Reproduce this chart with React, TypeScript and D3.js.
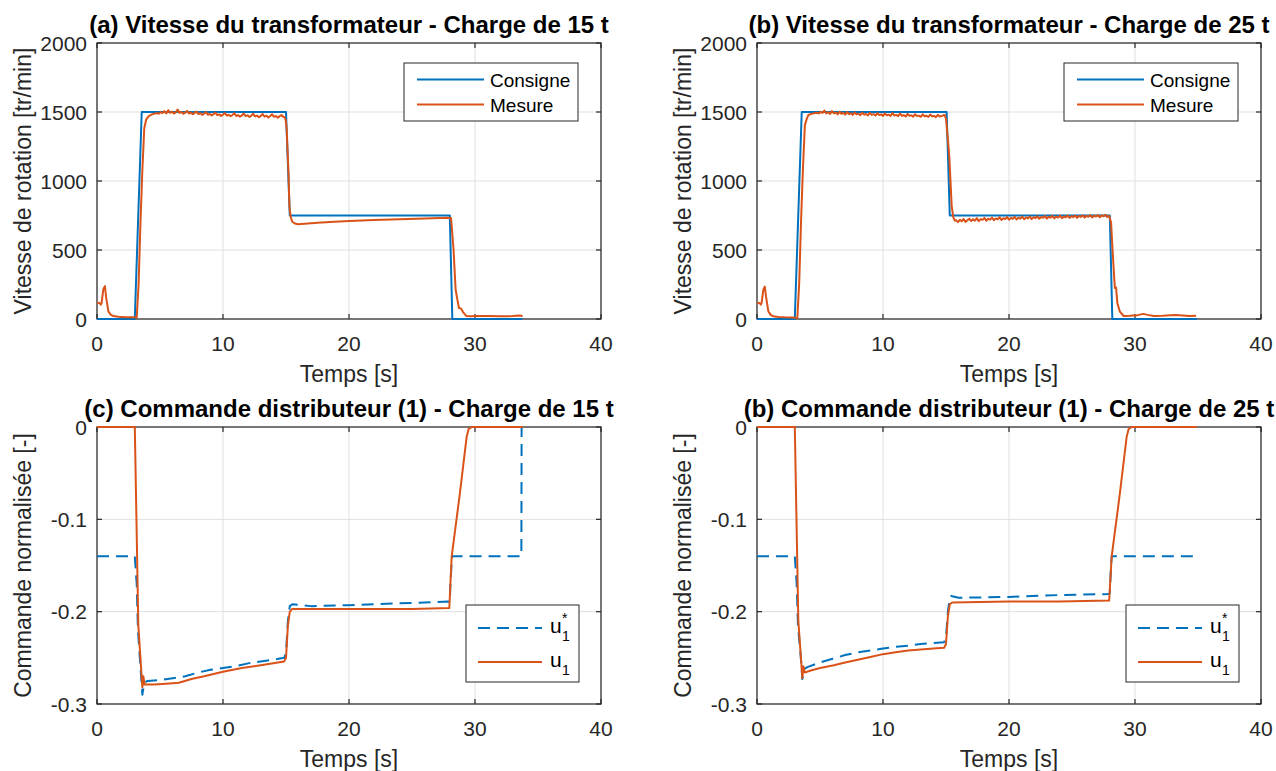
import React from 'react';
import * as d3 from 'd3';

type P = [number, number];

// ---------- axis ticks ----------
const xTicks = [0, 10, 20, 30, 40];
const xTickLabels = ['0', '10', '20', '30', '40'];
const speedTicks = [0, 500, 1000, 1500, 2000];
const speedTickLabels = ['0', '500', '1000', '1500', '2000'];
const cmdTicks = [0, -0.1, -0.2, -0.3];
const cmdTickLabels = ['0', '-0.1', '-0.2', '-0.3'];

// ---------- texts ----------
const titleA = '(a) Vitesse du transformateur - Charge de 15 t';
const titleB = '(b) Vitesse du transformateur - Charge de 25 t';
const titleC = '(c) Commande distributeur (1) - Charge de 15 t';
const titleD = '(b) Commande distributeur (1) - Charge de 25 t';
const xLabel = 'Temps [s]';
const speedLabel = 'Vitesse de rotation [tr/min]';
const cmdLabel = 'Commande normalisée [-]';
const speedLegend = ['Consigne', 'Mesure'];

// ---------- (a) speed, 15 t ----------
const consigneA: P[] = [[0, 0], [3.0, 0], [3.55, 1500], [15.0, 1500], [15.3, 750], [28.0, 750], [28.2, 0], [33.75, 0]];
const mesureA: P[] = [
  [0, 118], [0.2, 116], [0.3, 104], [0.37, 118], [0.5, 215], [0.63, 238], [0.72, 160], [0.9, 55], [1.1, 30], [1.3, 22], [1.7, 16], [2.2, 13], [2.8, 12], [3.15, 10],
  [3.3, 250], [3.45, 700], [3.6, 1080], [3.75, 1380], [3.9, 1445], [4.1, 1470], [4.4, 1484], [4.7, 1492],
  [4.9, 1488], [5.05, 1499], [5.2, 1492], [5.35, 1506], [5.5, 1490], [5.65, 1513], [5.8, 1494], [5.95, 1502], [6.1, 1489], [6.25, 1497],
  [6.4, 1518], [6.55, 1493], [6.7, 1500], [6.85, 1487], [7.0, 1495], [7.15, 1508], [7.3, 1489], [7.45, 1497], [7.6, 1484], [7.75, 1494],
  [7.9, 1503], [8.05, 1485], [8.2, 1492], [8.35, 1479], [8.5, 1488], [8.65, 1499], [8.8, 1480], [8.95, 1487], [9.1, 1475], [9.25, 1484],
  [9.4, 1496], [9.55, 1477], [9.7, 1483], [9.85, 1472], [10.0, 1481], [10.15, 1493], [10.3, 1474], [10.45, 1480], [10.6, 1469], [10.75, 1478],
  [10.9, 1491], [11.05, 1471], [11.2, 1478], [11.35, 1466], [11.5, 1475], [11.65, 1489], [11.8, 1470], [11.95, 1476], [12.1, 1464], [12.25, 1474],
  [12.4, 1487], [12.55, 1468], [12.7, 1474], [12.85, 1462], [13.0, 1472], [13.15, 1485], [13.3, 1467], [13.45, 1473], [13.6, 1460], [13.75, 1471],
  [13.9, 1483], [14.05, 1465], [14.2, 1471], [14.35, 1459], [14.5, 1470], [14.65, 1478], [14.8, 1464],
  [14.9, 1462], [14.98, 1440], [15.05, 1380], [15.2, 1060], [15.27, 820], [15.37, 740], [15.5, 705], [15.7, 692], [15.95, 686],
  [16.5, 690], [17.5, 697], [18.5, 703], [20, 710], [22, 717], [24, 723], [26, 729], [27.8, 734], [28.1, 730], [28.3, 500], [28.46, 215],
  [28.6, 140], [28.73, 80], [28.9, 75], [29.05, 50], [29.3, 22], [29.6, 20], [30.2, 22], [31, 21], [32, 20], [33, 21], [33.5, 26], [33.7, 24], [33.75, 16],
];

// ---------- (b) speed, 25 t ----------
const consigneB: P[] = [[0, 0], [3.0, 0], [3.55, 1500], [15.05, 1500], [15.3, 750], [28.0, 750], [28.2, 0], [34.9, 0]];
const mesureB: P[] = [
  [0, 118], [0.2, 116], [0.3, 104], [0.37, 118], [0.5, 210], [0.62, 235], [0.72, 160], [0.9, 55], [1.1, 28], [1.3, 20], [1.7, 15], [2.2, 12], [2.8, 10], [3.2, 8],
  [3.35, 260], [3.5, 720], [3.65, 1100], [3.8, 1405], [3.95, 1450], [4.07, 1478], [4.4, 1488], [4.7, 1495],
  [4.9, 1490], [5.05, 1501], [5.2, 1493], [5.35, 1511], [5.5, 1489], [5.65, 1498], [5.8, 1486], [5.95, 1506], [6.1, 1490], [6.25, 1496],
  [6.4, 1483], [6.55, 1502], [6.7, 1487], [6.85, 1494], [7.0, 1481], [7.15, 1500], [7.3, 1485], [7.45, 1491], [7.6, 1479], [7.75, 1498],
  [7.9, 1483], [8.05, 1488], [8.2, 1477], [8.35, 1496], [8.5, 1481], [8.65, 1486], [8.8, 1475], [8.95, 1494], [9.1, 1479], [9.25, 1485],
  [9.4, 1474], [9.55, 1492], [9.7, 1478], [9.85, 1483], [10.0, 1472], [10.15, 1490], [10.3, 1476], [10.45, 1481], [10.6, 1471], [10.75, 1493],
  [10.9, 1474], [11.05, 1479], [11.2, 1469], [11.35, 1488], [11.5, 1473], [11.65, 1477], [11.8, 1467], [11.95, 1486], [12.1, 1472], [12.25, 1476],
  [12.4, 1466], [12.55, 1484], [12.7, 1470], [12.85, 1474], [13.0, 1465], [13.15, 1483], [13.3, 1469], [13.45, 1473], [13.6, 1464], [13.75, 1482],
  [13.9, 1468], [14.05, 1472], [14.2, 1463], [14.35, 1480], [14.5, 1467], [14.65, 1471], [14.8, 1476],
  [14.9, 1478], [15.0, 1450], [15.15, 1300], [15.26, 1180], [15.45, 820], [15.58, 737], [15.7, 713],
  [15.8, 716], [15.95, 702], [16.1, 719], [16.25, 708], [16.4, 725], [16.55, 704], [16.7, 716], [16.85, 727], [17.0, 710], [17.15, 722],
  [17.3, 713], [17.45, 731], [17.6, 709], [17.75, 724], [17.9, 718], [18.05, 733], [18.2, 712], [18.35, 727], [18.5, 720], [18.65, 735],
  [18.8, 716], [18.95, 729], [19.1, 722], [19.25, 738], [19.4, 717], [19.55, 730], [19.7, 724], [19.85, 739], [20.0, 719], [20.15, 733],
  [20.3, 726], [20.45, 740], [20.6, 721], [20.75, 734], [20.9, 727], [21.05, 742], [21.2, 723], [21.35, 736], [21.5, 729], [21.65, 743],
  [21.8, 724], [21.95, 738], [22.1, 730], [22.25, 745], [22.4, 726], [22.55, 739], [22.7, 733], [22.85, 746], [23.0, 727], [23.15, 741],
  [23.3, 734], [23.45, 748], [23.6, 729], [23.75, 742], [23.9, 735], [24.05, 749], [24.2, 730], [24.35, 743], [24.5, 737], [24.65, 750],
  [24.8, 732], [24.95, 745], [25.1, 738], [25.25, 751], [25.4, 733], [25.55, 746], [25.7, 740], [25.85, 752], [26.0, 735], [26.15, 748],
  [26.3, 741], [26.45, 753], [26.6, 736], [26.75, 749], [26.9, 743], [27.05, 754], [27.2, 737], [27.35, 750], [27.5, 744], [27.65, 755],
  [27.8, 739], [27.95, 748], [28.1, 700], [28.25, 450], [28.4, 225], [28.5, 228], [28.6, 115], [28.8, 53], [29.1, 22], [29.6, 24],
  [30.2, 28], [30.65, 37], [31.0, 30], [31.5, 22], [32.2, 24], [32.8, 27], [33.2, 29], [33.8, 25], [34.3, 22], [34.85, 24],
];

// ---------- (c) command, 15 t ----------
const uStarC: P[] = [
  [0, -0.14], [3.0, -0.14], [3.05, -0.15], [3.15, -0.17], [3.25, -0.22], [3.35, -0.24], [3.45, -0.26], [3.6, -0.29], [3.75, -0.277],
  [4, -0.275], [5, -0.274], [6, -0.272], [7, -0.27], [8, -0.266], [9, -0.263], [10, -0.261], [11, -0.259], [12, -0.256], [13, -0.254],
  [14, -0.252], [14.85, -0.25], [15.0, -0.245], [15.15, -0.21], [15.3, -0.194], [15.5, -0.192], [17, -0.194], [20, -0.193], [24, -0.191],
  [27.9, -0.189], [28.0, -0.19], [28.05, -0.17], [28.15, -0.145], [28.2, -0.14], [33.68, -0.14], [33.7, 0],
];
const uC: P[] = [
  [0, 0], [3.0, 0], [3.28, -0.215], [3.6, -0.282], [3.68, -0.27], [3.78, -0.279], [4.5, -0.279], [5.5, -0.278], [6.5, -0.277],
  [7.5, -0.273], [8.5, -0.27], [10, -0.265], [11.5, -0.261], [13, -0.258], [14.85, -0.254], [15.0, -0.25], [15.15, -0.215],
  [15.3, -0.2], [15.5, -0.197], [20, -0.197], [25, -0.197], [27.96, -0.196], [28.15, -0.14], [28.8, -0.072], [29.34, -0.0105],
  [29.5, -0.002], [29.75, 0], [33.8, 0],
];

// ---------- (d) command, 25 t ----------
const uStarD: P[] = [
  [0, -0.14], [3.0, -0.14], [3.05, -0.15], [3.15, -0.17], [3.25, -0.215], [3.45, -0.245], [3.6, -0.273], [3.75, -0.262],
  [4, -0.26], [5, -0.255], [6, -0.251], [7, -0.247], [8, -0.244], [9, -0.242], [10, -0.24], [11, -0.238], [12, -0.237],
  [13, -0.235], [14, -0.234], [14.85, -0.233], [15.0, -0.228], [15.15, -0.2], [15.3, -0.185], [15.4, -0.183], [16, -0.185],
  [20, -0.184], [24, -0.182], [27.9, -0.181], [28.0, -0.18], [28.1, -0.15], [28.15, -0.14], [34.85, -0.14],
];
const uD: P[] = [
  [0, 0], [3.0, 0], [3.28, -0.21], [3.6, -0.272], [3.68, -0.259], [3.8, -0.266], [4.2, -0.264], [5, -0.261], [6.1, -0.258],
  [7, -0.255], [8, -0.252], [9, -0.249], [10, -0.246], [11, -0.244], [12, -0.242], [13, -0.241], [14, -0.24], [14.85, -0.239],
  [15.0, -0.235], [15.15, -0.205], [15.3, -0.192], [15.5, -0.19], [20, -0.189], [24, -0.189], [27.95, -0.188], [28.15, -0.14],
  [28.8, -0.072], [29.34, -0.0105], [29.5, -0.002], [29.75, 0], [34.9, 0],
];

// ---------- style ----------
const W = 1276;
const H = 771;
const BLUE = '#0072BD';
const ORANGE = '#D95319';
const AX = '#262626';
const GRID = '#dfdfdf';
const FONT = "'Liberation Sans', Arial, Helvetica, sans-serif";

type Series = { data: P[]; color: string; dash?: string };

type PanelProps = {
  left: number; top: number; width: number; height: number;
  yDomain: [number, number]; yTicks: number[]; yTickLabels: string[];
  title: string; ylabel: string; series: Series[];
  legend: 'speed' | 'cmd';
};

function Panel(p: PanelProps) {
  const x = d3.scaleLinear().domain([0, 40]).range([p.left, p.left + p.width]);
  const y = d3.scaleLinear().domain(p.yDomain).range([p.top + p.height, p.top]);
  const line = d3.line<P>().x(d => x(d[0])).y(d => y(d[1]));
  const bottom = p.top + p.height;
  const right = p.left + p.width;
  const tl = 5;

  let legendEl: React.ReactNode = null;
  if (p.legend === 'speed') {
    const lx = right - 197, ly = p.top + 20, lw = 174, lh = 58;
    const rows = [ly + 16.5, ly + 41.5];
    legendEl = (
      <g>
        <rect x={lx} y={ly} width={lw} height={lh} fill="#fff" stroke={AX} strokeWidth={1} />
        {p.series.map((s, i) => (
          <g key={i}>
            <line x1={lx + 13} x2={lx + 80} y1={rows[i]} y2={rows[i]} stroke={s.color} strokeWidth={2} />
            <text x={lx + 86} y={rows[i] + 7.5} fontSize={19} fill="#000">{speedLegend[i]}</text>
          </g>
        ))}
      </g>
    );
  } else {
    const lx = right - 135, ly = p.top + 178, lw = 113, lh = 77;
    const rows = [ly + 23, ly + 57];
    legendEl = (
      <g>
        <rect x={lx} y={ly} width={lw} height={lh} fill="#fff" stroke={AX} strokeWidth={1} />
        {p.series.map((s, i) => (
          <g key={i}>
            <line x1={lx + 12} x2={lx + 76} y1={rows[i]} y2={rows[i]} stroke={s.color} strokeWidth={2} strokeDasharray={s.dash} />
            <text x={lx + 84} y={rows[i] + 5} fontSize={21} fill="#000">u</text>
            <text x={lx + 96} y={rows[i] + 13} fontSize={14} fill="#000">1</text>
            {i === 0 ? <text x={lx + 96} y={rows[i] - 5} fontSize={14} fill="#000">*</text> : null}
          </g>
        ))}
      </g>
    );
  }

  return (
    <g fontFamily={FONT}>
      {xTicks.map(t => (
        <line key={'gx' + t} x1={x(t)} x2={x(t)} y1={p.top} y2={bottom} stroke={GRID} strokeWidth={1} />
      ))}
      {p.yTicks.map(t => (
        <line key={'gy' + t} x1={p.left} x2={right} y1={y(t)} y2={y(t)} stroke={GRID} strokeWidth={1} />
      ))}
      <rect x={p.left} y={p.top} width={p.width} height={p.height} fill="none" stroke={AX} strokeWidth={1.2} />
      {xTicks.map(t => (
        <g key={'tx' + t}>
          <line x1={x(t)} x2={x(t)} y1={bottom} y2={bottom - tl} stroke={AX} strokeWidth={1.2} />
          <line x1={x(t)} x2={x(t)} y1={p.top} y2={p.top + tl} stroke={AX} strokeWidth={1.2} />
        </g>
      ))}
      {p.yTicks.map(t => (
        <g key={'ty' + t}>
          <line x1={p.left} x2={p.left + tl} y1={y(t)} y2={y(t)} stroke={AX} strokeWidth={1.2} />
          <line x1={right} x2={right - tl} y1={y(t)} y2={y(t)} stroke={AX} strokeWidth={1.2} />
        </g>
      ))}
      {xTicks.map((t, i) => (
        <text key={'lx' + t} x={x(t)} y={bottom + 32} textAnchor="middle" fontSize={21} fill={AX}>{xTickLabels[i]}</text>
      ))}
      {p.yTicks.map((t, i) => (
        <text key={'ly' + t} x={p.left - 10} y={y(t) + 7.5} textAnchor="end" fontSize={21} fill={AX}>{p.yTickLabels[i]}</text>
      ))}
      <text x={(p.left + right) / 2} y={bottom + 63} textAnchor="middle" fontSize={23} fill={AX}>{xLabel}</text>
      <text transform={`translate(${p.left - 66},${(p.top + bottom) / 2}) rotate(-90)`} textAnchor="middle" fontSize={23} fill={AX}>{p.ylabel}</text>
      <text x={(p.left + right) / 2} y={p.top - 10} textAnchor="middle" fontSize={24} fontWeight="bold" fill="#000">{p.title}</text>
      {p.series.map((s, i) => (
        <path key={'s' + i} d={line(s.data) || ''} fill="none" stroke={s.color} strokeWidth={2} strokeDasharray={s.dash} strokeLinejoin="round" />
      ))}
      {legendEl}
    </g>
  );
}

export default function App() {
  const cols = [97, 757];
  const rowsTop = [43, 427];
  const pw = 504;
  const dash = '12,7';
  return (
    <svg width={W} height={H} viewBox={`0 0 ${W} ${H}`} style={{ position: 'absolute', left: 0, top: 0, background: '#fff' }}>
      <rect x={0} y={0} width={W} height={H} fill="#fff" />
      <Panel left={cols[0]} top={rowsTop[0]} width={pw} height={276} yDomain={[0, 2000]} yTicks={speedTicks} yTickLabels={speedTickLabels}
        title={titleA} ylabel={speedLabel} legend="speed"
        series={[{ data: consigneA, color: BLUE }, { data: mesureA, color: ORANGE }]} />
      <Panel left={cols[1]} top={rowsTop[0]} width={pw} height={276} yDomain={[0, 2000]} yTicks={speedTicks} yTickLabels={speedTickLabels}
        title={titleB} ylabel={speedLabel} legend="speed"
        series={[{ data: consigneB, color: BLUE }, { data: mesureB, color: ORANGE }]} />
      <Panel left={cols[0]} top={rowsTop[1]} width={pw} height={277} yDomain={[-0.3, 0]} yTicks={cmdTicks} yTickLabels={cmdTickLabels}
        title={titleC} ylabel={cmdLabel} legend="cmd"
        series={[{ data: uStarC, color: BLUE, dash }, { data: uC, color: ORANGE }]} />
      <Panel left={cols[1]} top={rowsTop[1]} width={pw} height={277} yDomain={[-0.3, 0]} yTicks={cmdTicks} yTickLabels={cmdTickLabels}
        title={titleD} ylabel={cmdLabel} legend="cmd"
        series={[{ data: uStarD, color: BLUE, dash }, { data: uD, color: ORANGE }]} />
    </svg>
  );
}
